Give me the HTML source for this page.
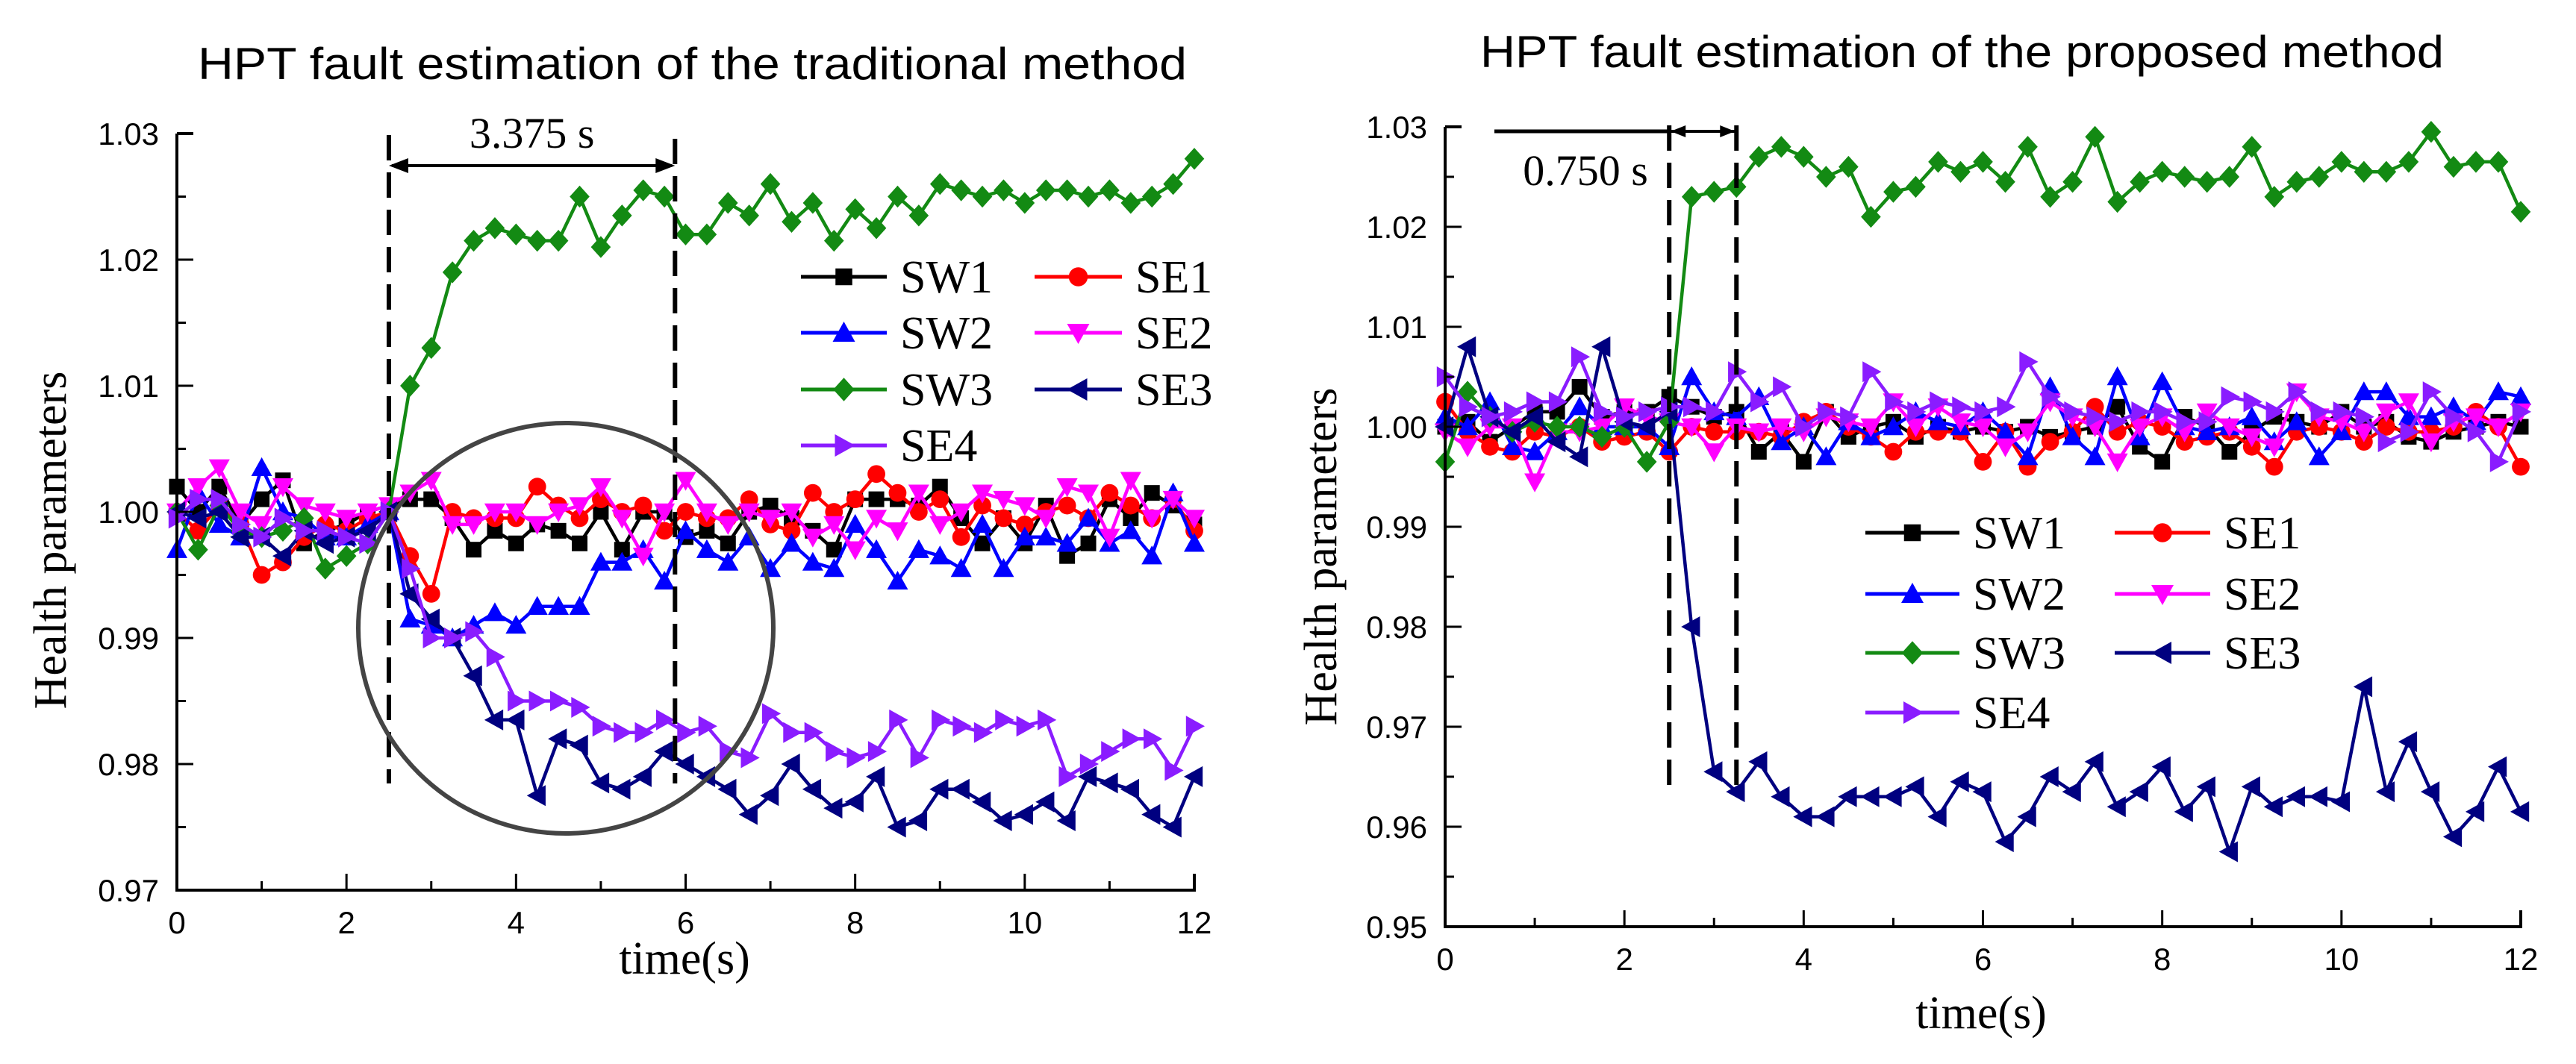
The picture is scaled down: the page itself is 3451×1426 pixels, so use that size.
<!DOCTYPE html>
<html><head><meta charset="utf-8"><style>
html,body{margin:0;padding:0;background:#fff;}
svg{display:block;}
</style></head><body>
<svg id="fig" xmlns="http://www.w3.org/2000/svg" width="3451" height="1426" viewBox="0 0 3451 1426">
<rect width="3451" height="1426" fill="#fff"/>
</svg>
<script>
const times = Array.from({length:49},(_, i)=>i*0.25);
const seriesNames = ["SW1","SE1","SW2","SE2","SW3","SE3","SE4"];
const xTicks = [0,2,4,6,8,10,12];
const leftYTicks = [0.97,0.98,0.99,1.00,1.01,1.02,1.03];
const rightYTicks = [0.95,0.96,0.97,0.98,0.99,1.00,1.01,1.02,1.03];

const L_SW1 = [1.002,1.000,1.002,0.999,1.001,1.0025,0.9975,0.9985,0.999,1.000,
1.0005,1.001,1.001,0.9995,0.997,0.9985,0.9975,0.999,0.9985,0.9975,
1.000,0.997,1.000,1.000,0.998,0.9985,0.9975,1.000,1.0005,0.9995,
0.9985,0.997,1.001,1.001,1.001,1.0005,1.002,0.9995,0.9975,0.9995,
0.9975,1.0005,0.9965,0.9975,1.001,0.9995,1.0015,1.0005,0.999];
const L_SE1 = [1.000,0.9985,1.0005,0.999,0.995,0.996,0.998,0.999,0.9985,0.9995,
1.0,0.9965,0.9935,1.0,0.9995,0.9995,0.9995,1.002,1.0005,0.9995,
1.001,1.0,1.0005,0.9985,1.0,0.9995,0.9995,1.001,0.999,0.9985,
1.0015,1.000,1.001,1.003,1.0015,1.000,1.001,0.998,1.0005,0.9995,
0.999,1.0,1.0005,0.9995,1.0015,1.0005,0.9995,1.001,0.9985];
const L_SW2 = [0.997,1.0015,0.999,0.998,1.0035,1.0,0.9995,0.998,0.998,0.999,
1.0,0.9915,0.991,0.990,0.991,0.992,0.991,0.9925,0.9925,0.9925,
0.996,0.996,0.997,0.9945,0.9985,0.997,0.996,0.998,0.9955,0.9975,
0.996,0.9955,0.999,0.997,0.9945,0.997,0.9965,0.9955,0.999,0.9955,
0.998,0.998,0.9975,0.9995,0.9975,0.9985,0.9965,1.0015,0.9975];
const L_SE2 = [1.0,1.002,1.0035,1.0,0.999,1.002,1.0005,1.0,0.9995,1.0,
1.0005,1.0015,1.0025,0.999,0.999,1.0,1.0,0.999,1.0,1.0005,
1.002,0.9995,0.9965,1.0,1.0025,1.0,0.999,1.0,0.9995,1.0,
0.998,0.999,0.997,0.9995,0.9985,1.0015,0.999,1.0,1.0015,1.001,
1.0005,0.9995,1.002,1.0015,0.998,1.0025,0.9995,1.001,0.9995];
const L_SW3 = [1.0,0.997,1.0005,0.9985,0.998,0.9985,0.9995,0.9955,0.9965,0.9975,
1.0,1.010,1.013,1.019,1.0215,1.0225,1.022,1.0215,1.0215,1.025,
1.021,1.0235,1.0255,1.025,1.022,1.022,1.0245,1.0235,1.026,1.023,
1.0245,1.0215,1.024,1.0225,1.025,1.0235,1.026,1.0255,1.025,1.0255,
1.0245,1.0255,1.0255,1.025,1.0255,1.0245,1.025,1.026,1.028];
const L_SE3 = [1.0,0.9995,1.0,0.998,0.998,0.9965,0.9985,0.9975,0.998,0.9985,
1.0,0.9935,0.9915,0.990,0.987,0.9835,0.9835,0.9775,0.982,0.9815,
0.9785,0.978,0.979,0.981,0.980,0.979,0.978,0.976,0.9775,0.980,
0.978,0.9765,0.977,0.979,0.975,0.9755,0.978,0.978,0.977,0.9755,
0.976,0.977,0.9755,0.979,0.9785,0.978,0.976,0.975,0.979];
const L_SE4 = [0.9995,1.001,1.001,0.999,0.998,0.9995,0.9985,0.9985,0.998,0.9975,
1.0,0.9955,0.990,0.990,0.9905,0.9885,0.985,0.985,0.985,0.9845,
0.983,0.9825,0.9825,0.9835,0.9825,0.983,0.981,0.9805,0.984,0.9825,
0.9825,0.981,0.9805,0.981,0.9835,0.9805,0.9835,0.983,0.9825,0.9835,
0.983,0.9835,0.979,0.980,0.981,0.982,0.982,0.9795,0.983];

const R_SW1 = [1.0,1.0005,0.9985,1.0,1.0015,1.0015,1.004,1.001,1.0015,1.0015,
1.003,1.002,1.001,1.0015,0.9975,0.9995,0.9965,1.0015,0.999,1.0,
1.0005,0.999,1.0,0.9995,1.0,0.9995,1.0,0.999,0.9995,1.0,
1.002,0.998,0.9965,1.001,1.0,0.9975,0.9995,1.001,1.0005,1.0,
1.0015,1.0,1.0005,0.999,0.9985,0.9995,1.0,1.0005,1.0];
const R_SE1 = [1.0025,0.9995,0.998,0.9975,0.9995,0.999,1.0,0.9985,0.999,0.9995,
0.9975,1.0,0.9995,0.9995,0.9995,0.999,1.0005,1.0015,1.0,0.999,
0.9975,0.9995,0.9995,0.9995,0.9965,0.9995,0.996,0.9985,0.9995,1.002,
0.9995,1.0005,1.0,0.9985,0.999,0.9995,0.998,0.996,0.9995,1.0,
0.9995,0.9985,1.0,0.9995,0.9995,1.0,1.0015,1.0,0.996];
const R_SW2 = [1.001,1.0,1.0025,0.998,0.9975,0.9995,1.002,1.0,1.0,1.0,
0.998,1.005,1.0015,1.001,1.003,0.9985,1.0,0.997,1.0005,0.999,
1.0,1.0015,1.0005,1.0,1.0015,0.9995,0.997,1.004,0.999,0.997,
1.005,0.999,1.0045,1.0,0.9995,1.0,1.001,0.9985,1.0005,0.997,
0.9995,1.0035,1.0035,1.001,1.001,1.002,1.0005,1.0035,1.003];
const R_SE2 = [0.9995,0.998,1.0,1.0,0.9945,0.9995,0.9995,1.0,1.002,1.001,
1.0005,1.0,0.9975,1.0,0.9995,1.0,0.9995,1.001,1.0005,1.0,
1.0025,1.0,1.002,1.0005,1.0,0.998,0.9995,1.0025,1.001,1.0,
0.9965,1.0,1.001,0.9995,1.0015,1.0,0.999,0.998,1.0035,1.001,
1.0005,0.9995,1.0015,1.0025,0.9985,1.0005,1.001,1.0,1.0015];
const R_SW3 = [0.9965,1.0035,1.001,0.9995,1.0005,1.0,1.0,0.999,1.0,0.9965,
1.0005,1.023,1.0235,1.024,1.027,1.028,1.027,1.025,1.026,1.021,
1.0235,1.024,1.0265,1.0255,1.0265,1.0245,1.028,1.023,1.0245,1.029,
1.0225,1.0245,1.0255,1.025,1.0245,1.025,1.028,1.023,1.0245,1.025,
1.0265,1.0255,1.0255,1.0265,1.0295,1.026,1.0265,1.0265,1.0215];
const R_SE3 = [1.0,1.008,1.001,0.9995,1.001,0.9985,0.997,1.008,1.0005,1.0,
1.0015,0.980,0.9655,0.9635,0.9665,0.963,0.961,0.961,0.963,0.963,
0.963,0.964,0.961,0.9645,0.9635,0.9585,0.961,0.965,0.9635,0.9665,
0.962,0.9635,0.966,0.9615,0.964,0.9575,0.964,0.962,0.963,0.963,
0.9625,0.974,0.9635,0.9685,0.9635,0.959,0.9615,0.966,0.9615];
const R_SE4 = [1.005,1.002,1.001,1.0015,1.0025,1.0025,1.007,1.0015,1.001,1.0015,
1.002,1.002,1.0015,1.0055,1.0025,1.004,1.0,1.0015,1.001,1.0055,
1.0025,1.0015,1.0025,1.002,1.0015,1.002,1.0065,1.003,1.0015,1.001,
1.0005,1.0015,1.0015,1.0005,1.0005,1.003,1.0025,1.0015,1.0035,1.0015,
1.0015,1.001,0.9985,0.9995,1.0035,1.001,0.9995,0.9965,1.0015];

const NS="http://www.w3.org/2000/svg";
const svg=document.getElementById('fig');
function mk(tag,attrs,parent){const e=document.createElementNS(NS,tag);for(const k in attrs)e.setAttribute(k,attrs[k]);(parent||svg).appendChild(e);return e;}

const styles = {
 SW1:{c:"#000000",m:"square"}, SE1:{c:"#ff0000",m:"circle"}, SW2:{c:"#0000ff",m:"up"},
 SE2:{c:"#ff00ff",m:"down"}, SW3:{c:"#138a13",m:"diamond"}, SE3:{c:"#000080",m:"left"},
 SE4:{c:"#8a1cff",m:"right"}
};
function marker(g,type,x,y,c,s){
 let e;
 if(type==="square") e=mk('rect',{x:x-s*0.75,y:y-s*0.75,width:s*1.5,height:s*1.5,fill:c},g);
 else if(type==="circle") e=mk('circle',{cx:x,cy:y,r:s*0.85,fill:c},g);
 else {
  let p;
  if(type==="up") p=[[x,y-s],[x+s,y+s*0.8],[x-s,y+s*0.8]];
  if(type==="down") p=[[x,y+s],[x+s,y-s*0.8],[x-s,y-s*0.8]];
  if(type==="left") p=[[x-s,y],[x+s*0.8,y-s],[x+s*0.8,y+s]];
  if(type==="right") p=[[x+s,y],[x-s*0.8,y-s],[x-s*0.8,y+s]];
  if(type==="diamond") p=[[x,y-s*1.05],[x+s*0.95,y],[x,y+s*1.05],[x-s*0.95,y]];
  e=mk('polygon',{points:p.map(q=>q.join(',')).join(' '),fill:c},g);
 }
 return e;
}

function chart(cfg){
 const {x0,x1,yBot,yTop,ymin,ymax,yticks,data,name}=cfg;
 const xs=t=>x0+(t/12)*(x1-x0);
 const ys=v=>yBot-(v-ymin)/(ymax-ymin)*(yBot-yTop);
 const g=mk('g',{});
 
 
 const tt=mk('text',{x:(cfg.titleX0+cfg.titleX1)/2,y:cfg.titleY,'text-anchor':'middle','font-family':'Liberation Sans, sans-serif','font-size':60,fill:'#000',textLength:cfg.titleX1-cfg.titleX0,lengthAdjust:'spacingAndGlyphs'},g);
 tt.textContent=cfg.title;
 
 
 const sg=mk('g',{},g);
 seriesNames.forEach(n=>{
  const vals=data[n]; const st=styles[n];
  const grp=mk('g',{},sg);
  
  
  const pts=vals.map((v,i)=>xs(times[i]).toFixed(1)+','+ys(v).toFixed(1)).join(' ');
  mk('polyline',{points:pts,fill:'none',stroke:st.c,'stroke-width':4.5,'stroke-linejoin':'miter'},grp);
  vals.forEach((v,i)=>{
   const m=marker(grp,st.m,xs(times[i]),ys(v),st.c,14);
   
   
  });
 });
 const ax=mk('path',{d:`M${x0},${yTop} L${x0},${yBot} L${x1},${yBot} L${x1},${yBot-22}`,fill:'none',stroke:'#000','stroke-width':4},g);
 
 
 mk('line',{x1:x0,y1:yTop,x2:x0+22,y2:yTop,stroke:'#000','stroke-width':4},g);
 const step=(ymax-ymin)/(yticks.length-1);
 for(let i=0;i<yticks.length;i++){
  const v=yticks[i], y=ys(v);
  mk('line',{x1:x0,y1:y,x2:x0+22,y2:y,stroke:'#000','stroke-width':3},g);
  if(i<yticks.length-1){const ym=ys(v+step/2);mk('line',{x1:x0,y1:ym,x2:x0+12,y2:ym,stroke:'#000','stroke-width':3},g);}
  const t=mk('text',{x:x0-24,y:y+15,'text-anchor':'end','font-family':'Liberation Sans, sans-serif','font-size':42,fill:'#000'},g);
  t.textContent=v.toFixed(2);
  
  
 }
 for(let v=0;v<=12;v++){
  const x=xs(v); const major=v%2===0;
  mk('line',{x1:x,y1:yBot,x2:x,y2:yBot-(major?22:12),stroke:'#000','stroke-width':3},g);
 }
 xTicks.forEach(v=>{
  const t=mk('text',{x:xs(v),y:yBot+58,'text-anchor':'middle','font-family':'Liberation Sans, sans-serif','font-size':42,fill:'#000'},g);
  t.textContent=String(v);
  
  
 });
 const xt=mk('text',{x:cfg.xtX,y:cfg.xtY,'text-anchor':'middle','font-family':'Liberation Serif, serif','font-size':62,fill:'#000'},g);
 xt.textContent='time(s)';
 
 
 const yt=mk('text',{x:0,y:0,'text-anchor':'middle','font-family':'Liberation Serif, serif','font-size':62,fill:'#000',transform:`translate(${cfg.ytX},${cfg.ytY}) rotate(-90)`},g);
 yt.textContent='Health parameters';
 
 
 const lg=mk('g',{},g);
 
 
 const order=[["SW1",0,0],["SE1",1,0],["SW2",0,1],["SE2",1,1],["SW3",0,2],["SE3",1,2],["SE4",0,3]];
 order.forEach(([n,c,r])=>{
  const e=mk('g',{},lg);
  
  
  const lx0=cfg.legCols[c][0], lx1=cfg.legCols[c][1], ly=cfg.legRows[r];
  mk('line',{x1:lx0,y1:ly,x2:lx1,y2:ly,stroke:styles[n].c,'stroke-width':5},e);
  marker(e,styles[n].m,(lx0+lx1)/2,ly,styles[n].c,15);
  const t=mk('text',{x:lx1+18,y:ly+21,'font-family':'Liberation Serif, serif','font-size':62,fill:'#000'},e);
  t.textContent=n;
 });
 return {xs,ys,g};
}

const A=chart({name:'left-chart',x0:237,x1:1600,yBot:1193,yTop:179,ymin:0.97,ymax:1.03,yticks:leftYTicks,
 data:{SW1:L_SW1,SE1:L_SE1,SW2:L_SW2,SE2:L_SE2,SW3:L_SW3,SE3:L_SE3,SE4:L_SE4},
 title:'HPT fault estimation of the traditional method',titleX0:265,titleX1:1590,titleY:106,
 xtX:917,xtY:1305,ytX:88,ytY:724,
 legCols:[[1073,1188],[1386,1503]],legRows:[371,446,522,597]});
(function(){
 const g=mk('g',{});  
 const xa=A.xs(2.5), xb=A.xs(5.875);
 mk('line',{x1:xa,y1:181,x2:xa,y2:1050,stroke:'#000','stroke-width':6,'stroke-dasharray':'34,16'},g);
 mk('line',{x1:xb,y1:186,x2:xb,y2:1050,stroke:'#000','stroke-width':6,'stroke-dasharray':'34,16'},g);
 mk('line',{x1:xa+4,y1:222,x2:xb-4,y2:222,stroke:'#000','stroke-width':4},g);
 mk('polygon',{points:`${xa},222 ${xa+26},212 ${xa+26},232`,fill:'#000'},g);
 mk('polygon',{points:`${xb},222 ${xb-26},212 ${xb-26},232`,fill:'#000'},g);
 const t=mk('text',{x:(xa+xb)/2,y:198,'text-anchor':'middle','font-family':'Liberation Serif, serif','font-size':58,fill:'#000'},g);
 t.textContent='3.375 s';
 const c=mk('ellipse',{cx:758,cy:842,rx:278,ry:275,fill:'none',stroke:'#444','stroke-width':6},g);
  
})();

const B=chart({name:'right-chart',x0:1936,x1:3377,yBot:1242,yTop:170,ymin:0.95,ymax:1.03,yticks:rightYTicks,
 data:{SW1:R_SW1,SE1:R_SE1,SW2:R_SW2,SE2:R_SE2,SW3:R_SW3,SE3:R_SE3,SE4:R_SE4},
 title:'HPT fault estimation of the proposed method',titleX0:1983,titleX1:3274,titleY:90,
 xtX:2654,xtY:1378,ytX:1790,ytY:746,
 legCols:[[2499,2625],[2833,2961]],legRows:[714,796,875,955]});
(function(){
 const g=mk('g',{});  
 const xa=B.xs(2.5), xb=B.xs(3.25);
 mk('line',{x1:2002,y1:176,x2:xa,y2:176,stroke:'#000','stroke-width':5},g);
 mk('line',{x1:xa,y1:168,x2:xa,y2:1065,stroke:'#000','stroke-width':6,'stroke-dasharray':'34,16'},g);
 mk('line',{x1:xb,y1:168,x2:xb,y2:1065,stroke:'#000','stroke-width':6,'stroke-dasharray':'34,16'},g);
 mk('line',{x1:xa,y1:176,x2:xb,y2:176,stroke:'#000','stroke-width':4},g);
 mk('polygon',{points:`${xa+2},176 ${xa+22},168 ${xa+22},184`,fill:'#000'},g);
 mk('polygon',{points:`${xb-2},176 ${xb-22},168 ${xb-22},184`,fill:'#000'},g);
 const t=mk('text',{x:2124,y:248,'text-anchor':'middle','font-family':'Liberation Serif, serif','font-size':58,fill:'#000'},g);
 t.textContent='0.750 s';
})();
</script>
</body></html>
